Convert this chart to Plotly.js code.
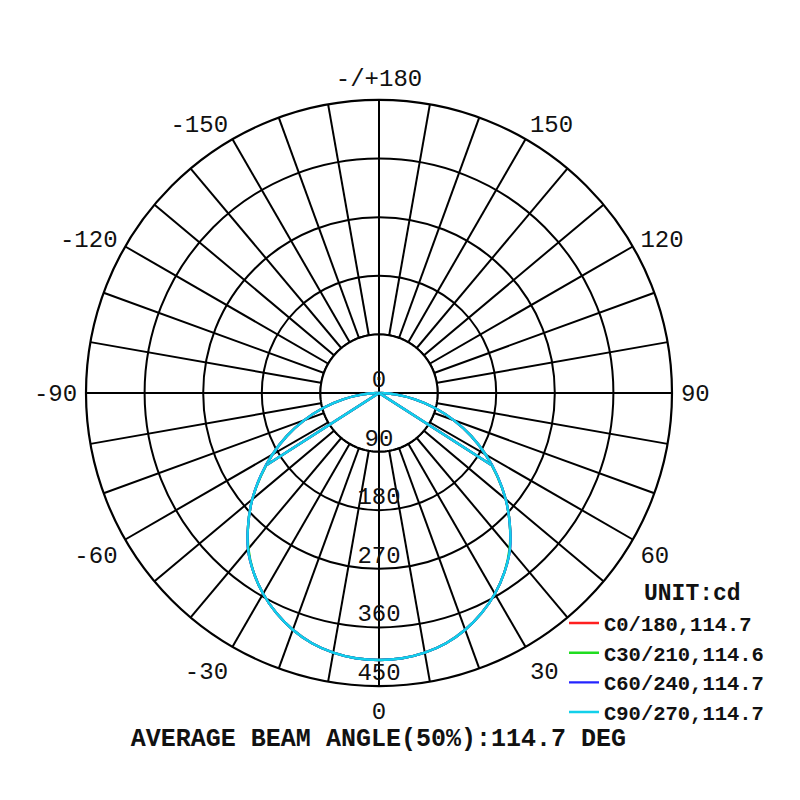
<!DOCTYPE html>
<html>
<head>
<meta charset="utf-8">
<script src="https://cdn.plot.ly/plotly-3.0.1.min.js"></script>
<style>html,body{margin:0;padding:0;background:#fff;}#chart{width:800px;height:800px;}</style>
</head>
<body>
<div id="chart"></div>
<script>
// ---- data ----
// gamma angles (deg) of one half plane, 0 = straight down
var gammaDeg = [0, 5, 10, 15, 20, 25, 30, 35, 40, 45, 50, 55, 60, 65, 70, 75, 80, 85, 90];
// luminous intensity (cd) at those gamma angles (all four C planes overlap)
var intensityC0   = [410, 409, 405, 398, 387, 373, 356, 336, 313, 284, 254, 222, 189, 156, 122, 89, 56, 25, 2];
var intensityC30  = [410, 409, 405, 398, 387, 373, 356, 336, 312, 284, 254, 221, 189, 156, 122, 89, 56, 25, 2];
var intensityC60  = [410, 409, 405, 398, 387, 373, 356, 336, 313, 284, 254, 222, 189, 156, 122, 89, 56, 25, 2];
var intensityC90  = [410, 409, 405, 398, 387, 373, 356, 336, 313, 284, 254, 222, 189, 156, 122, 89, 56, 25, 2];
var planeNames  = ["C0/180", "C30/210", "C60/240", "C90/270"];
var beamAngles  = [114.7, 114.6, 114.7, 114.7];
var planeColors = ["#ff2020", "#20dd20", "#2424ff", "#12d0ea"];
var averageBeamAngle = 114.7;
var unitLabel = "UNIT:cd";

// axis ticks
var radialRingVals = [0, 90, 180, 270, 360, 450];
var angleTickVals = [];
var angleTickText = [];
var angleLabelMap = {0:"0", 30:"30", 60:"60", 90:"90", 120:"120", 150:"150", 180:"-/+180",
                     210:"-150", 240:"-120", 270:"-90", 300:"-60", 330:"-30"};
for (var a = 0; a < 360; a += 10) {
  angleTickVals.push(a);
  angleTickText.push(angleLabelMap.hasOwnProperty(a) ? angleLabelMap[a] : "");
}

var planeIntensity = [intensityC0, intensityC30, intensityC60, intensityC90];
var FONT = "Liberation Mono, Courier New, monospace";
var GRIDW = 2;

var traces = [];

// white inner disk (grid spokes start from the first ring)
var diskTheta = [], diskR = [];
for (var t = 0; t <= 360; t += 2) { diskTheta.push(t); diskR.push(radialRingVals[1]); }
traces.push({type:"scatterpolar", mode:"lines", theta:diskTheta, r:diskR, fill:"toself",
  fillcolor:"#ffffff", line:{color:"#000", width:GRIDW}, hoverinfo:"skip", showlegend:false});
// main cross lines through the centre
traces.push({type:"scatterpolar", mode:"lines",
  theta:[0, 0, 180, null, 90, 90, 270],
  r:[radialRingVals[1], 0, radialRingVals[1], null, radialRingVals[1], 0, radialRingVals[1]],
  line:{color:"#000", width:GRIDW}, hoverinfo:"skip", showlegend:false, connectgaps:false});

// intensity curves: left half mirrored, right half
for (var p = 0; p < planeNames.length; p++) {
  var th = [], rr = [];
  var I = planeIntensity[p];
  for (var i = gammaDeg.length - 1; i >= 1; i--) { th.push(-gammaDeg[i]); rr.push(I[i]); }
  for (var j = 0; j < gammaDeg.length; j++) { th.push(gammaDeg[j]); rr.push(I[j]); }
  traces.push({type:"scatterpolar", mode:"lines", theta:th, r:rr,
    name: planeNames[p] + "," + beamAngles[p].toFixed(1),
    line:{color:planeColors[p], width:2.4, shape:"spline", smoothing:1},
    legendgroup:"g"+p, showlegend:true});
}
// beam-angle (50%) lines from centre to half-peak points
for (var q = 0; q < planeNames.length; q++) {
  var Imax = Math.max.apply(null, planeIntensity[q]);
  var half = beamAngles[q] / 2;
  traces.push({type:"scatterpolar", mode:"lines",
    theta:[-half, 0, half], r:[Imax/2, 0, Imax/2],
    line:{color:planeColors[q], width:2.4}, legendgroup:"g"+q, showlegend:false, hoverinfo:"skip"});
}

// radial ring labels along the downward axis
traces.push({type:"scatterpolar", mode:"text",
  theta: radialRingVals.map(function(){return 0;}), r: radialRingVals,
  text: radialRingVals.map(String), textposition:"top center",
  textfont:{family:FONT, size:24, color:"#111"}, hoverinfo:"skip", showlegend:false});

var layout = {
  width:800, height:800,
  margin:{l:0, r:0, t:0, b:0},
  paper_bgcolor:"#fff",
  showlegend:true,
  title:{text:"AVERAGE BEAM ANGLE(50%):" + averageBeamAngle.toFixed(1) + " DEG",
    x:0.473, xanchor:"center", y:0.079, yanchor:"middle",
    font:{family:FONT, size:25, color:"#111", weight:"bold"}},
  polar:{
    domain:{x:[0.1075, 0.84], y:[0.1425, 0.875]},
    bgcolor:"#fff",
    radialaxis:{range:[0, 450], tickvals:radialRingVals, showticklabels:false, ticks:"",
      showline:false, gridcolor:"#000", gridwidth:GRIDW, angle:-90},
    angularaxis:{rotation:-90, direction:"counterclockwise",
      tickmode:"array", tickvals:angleTickVals, ticktext:angleTickText,
      ticks:"outside", ticklen:3, tickcolor:"rgba(255,255,255,0)",
      showline:true, linecolor:"#000", linewidth:2.2,
      gridcolor:"#000", gridwidth:GRIDW,
      tickfont:{family:FONT, size:24, color:"#111"}}
  },
  legend:{x:0.705, y:0.246, xanchor:"left", yanchor:"top", bgcolor:"rgba(0,0,0,0)",
    font:{family:FONT, size:20.5, color:"#111", weight:"bold"}, tracegroupgap:0},
  annotations:[{text:unitLabel, xref:"paper", yref:"paper", x:0.865, y:0.257,
    xanchor:"center", yanchor:"middle", showarrow:false,
    font:{family:FONT, size:23, color:"#111", weight:"bold"}}]
};

Plotly.newPlot("chart", traces, layout, {displayModeBar:false, staticPlot:true});
</script>
</body>
</html>
